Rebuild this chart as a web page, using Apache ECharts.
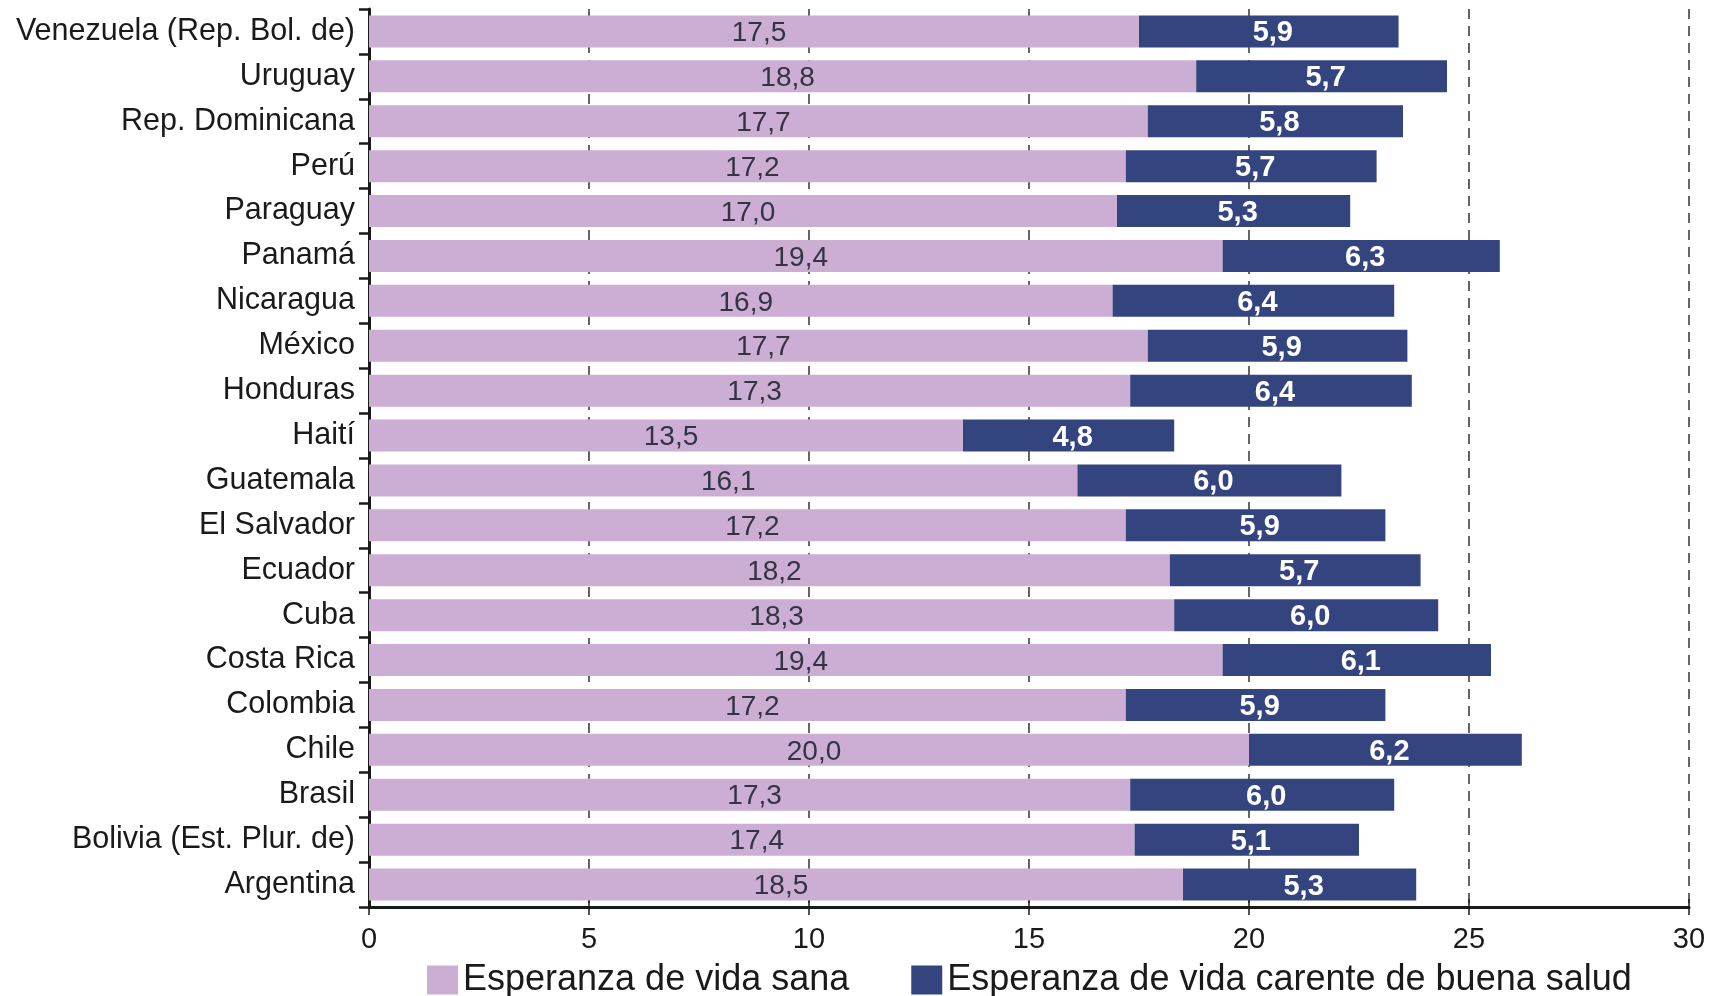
<!DOCTYPE html>
<html>
<head>
<meta charset="utf-8">
<script src="https://cdn.jsdelivr.net/npm/echarts@6/dist/echarts.min.js"></script>
<style>
  html, body { margin: 0; padding: 0; background: #fff; }
  #chart { width: 1714px; height: 996px; }
</style>
</head>
<body>
<div id="chart"></div>
<script>
/* ── Data ─────────────────────────────────────────────────────────── */
const countries = [
    'Venezuela (Rep. Bol. de)', 'Uruguay', 'Rep. Dominicana', 'Perú', 'Paraguay',
    'Panamá', 'Nicaragua', 'México', 'Honduras', 'Haití', 'Guatemala',
    'El Salvador', 'Ecuador', 'Cuba', 'Costa Rica', 'Colombia', 'Chile',
    'Brasil', 'Bolivia (Est. Plur. de)', 'Argentina'
];
const vidaSana = [17.5, 18.8, 17.7, 17.2, 17.0, 19.4, 16.9, 17.7, 17.3, 13.5,
                  16.1, 17.2, 18.2, 18.3, 19.4, 17.2, 20.0, 17.3, 17.4, 18.5];
const vidaCarente = [5.9, 5.7, 5.8, 5.7, 5.3, 6.3, 6.4, 5.9, 6.4, 4.8,
                     6.0, 5.9, 5.7, 6.0, 6.1, 5.9, 6.2, 6.0, 5.1, 5.3];
const seriesNames = ['Esperanza de vida sana', 'Esperanza de vida carente de buena salud'];

/* ── Helpers ──────────────────────────────────────────────────────── */
const FONT = '"Liberation Sans", Arial, sans-serif';
const fmt = p => p.value.toFixed(1).replace('.', ',');

/* ── Chart ────────────────────────────────────────────────────────── */
const chart = echarts.init(document.getElementById('chart'));

chart.setOption({
    animation: false,
    backgroundColor: '#fff',
    textStyle: { fontFamily: FONT },
    grid: { left: 369, right: 25, top: 9, bottom: 89 },
    legend: {
        data: seriesNames,
        top: 957,
        left: 422,
        itemWidth: 31,
        itemHeight: 29,
        itemGap: 62,
        icon: 'rect',
        textStyle: { fontSize: 36, color: '#1a1a1a', fontFamily: FONT }
    },
    xAxis: [
        {
            type: 'value',
            min: 0,
            max: 30,
            interval: 5,
            axisLine: { show: true, lineStyle: { color: '#1a1a1a', width: 3 } },
            axisTick: { show: true, length: 8, lineStyle: { color: '#1a1a1a', width: 1.5 } },
            axisLabel: { fontSize: 29, color: '#1a1a1a', margin: 18 },
            splitLine: {
                show: true,
                lineStyle: { color: '#333', width: 1.5, type: [10, 7] }
            }
        },
        {
            // inner half of the crossing ticks
            type: 'value',
            position: 'bottom',
            min: 0,
            max: 30,
            interval: 5,
            axisLine: { show: false },
            axisTick: { show: true, inside: true, length: 8, lineStyle: { color: '#1a1a1a', width: 1.5 } },
            axisLabel: { show: false },
            splitLine: { show: false }
        }
    ],
    yAxis: {
        type: 'category',
        inverse: true,
        data: countries,
        axisLine: { show: true, lineStyle: { color: '#1a1a1a', width: 3 } },
        axisTick: { show: true, length: 10, lineStyle: { color: '#1a1a1a', width: 2.5 } },
        axisLabel: { fontSize: 30.5, color: '#1a1a1a', margin: 14 }
    },
    series: [
        {
            name: seriesNames[0],
            type: 'bar',
            stack: 'total',
            data: vidaSana,
            barWidth: 32,
            itemStyle: { color: '#ccaed4' },
            label: {
                show: true,
                position: 'inside',
                formatter: fmt,
                fontSize: 28,
                color: '#333344',
                offset: [5, 2]
            }
        },
        {
            name: seriesNames[1],
            type: 'bar',
            stack: 'total',
            data: vidaCarente,
            barWidth: 32,
            itemStyle: { color: '#34447f' },
            label: {
                show: true,
                position: 'inside',
                formatter: fmt,
                fontSize: 29,
                fontWeight: 'bold',
                color: '#ffffff',
                offset: [4, 2]
            }
        }
    ]
});
</script>
</body>
</html>
